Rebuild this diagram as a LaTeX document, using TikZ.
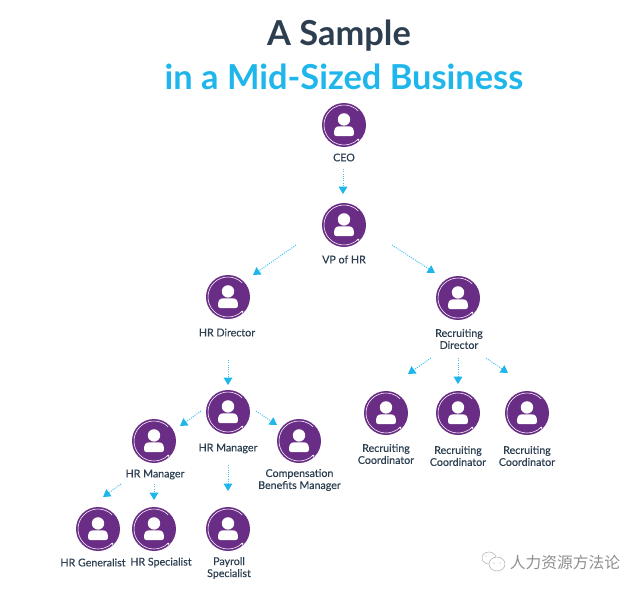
\documentclass[tikz,border=0pt]{standalone}
\usepackage{fontspec}
\setmainfont{Lato}
\newfontfamily\cjkfont{Noto Sans CJK SC}
\newfontfamily\rolefont[FakeBold=0.35]{Lato}
\usetikzlibrary{arrows.meta}
\definecolor{grape}{HTML}{6A2D86}
\definecolor{ink}{HTML}{2C3E50}
\definecolor{sky}{HTML}{1FB6EC}
\definecolor{mark}{HTML}{8E8E8E}
\tikzset{
  avatar/.style={circle,fill=grape,draw=none,minimum size=33pt,inner sep=0pt},
  role/.style={text=ink,font=\fontsize{8}{9}\rolefont,align=center,inner sep=0pt},
  link/.style={draw=sky!85,line width=0.7pt,dash pattern=on 0.8pt off 0.9pt,
    -{Triangle[length=5.5pt,width=6.5pt,color=sky,fill=sky,sep=0pt]}},
  persona/.pic={
    \draw[white,line width=0.4pt] (-45:20) arc[start angle=-45,end angle=-315,radius=20];
    \fill[white] (46:20.5) circle (1.2);
    \fill[white] (0,-5.6) circle (6.2);
    \fill[white] (-10,8.5) .. controls (-10,3.5) and (-8.5,1.3) .. (-4.5,1.3) -- (4.5,1.3)
      .. controls (8.5,1.3) and (10,3.5) .. (10,8.5)
      .. controls (10,10.3) and (9,11) .. (7.5,11) -- (-7.5,11)
      .. controls (-9,11) and (-10,10.3) .. (-10,8.5) -- cycle;
  }
}
\newcommand{\person}[2]{\node[avatar] (#1) at (#2) {}; \path (#1.center) pic[transform shape] {persona};}
\begin{document}
\begin{tikzpicture}[x=0.75pt,y=0.75pt,yscale=-1,xscale=1]
\path[use as bounding box] (0,0) rectangle (640,590);
% title
\node[text=ink,font=\fontsize{25.8}{30}\selectfont\bfseries,inner sep=0pt] (titlea) at (339,36) {A Sample};
\node[text=sky,font=\fontsize{25.8}{30}\selectfont\bfseries,inner sep=0pt] (titleb) at (344,77) {in a Mid-Sized Business};
% people
\person{ceo}{344,125}
\person{vphr}{344,225}
\person{hrdir}{228,297}
\person{recdir}{458,298}
\person{hrmgr}{228,412}
\person{hrmgrl}{154,441}
\person{comp}{299,441}
\person{reca}{386,413}
\person{recb}{458,413}
\person{recc}{527,413}
\person{hrgen}{98,529}
\person{hrspec}{154,529}
\person{payroll}{228,529}
% labels
\node[role] (ceotxt) at (344,157.5) {CEO};
\node[role] (vphrtxt) at (344,259.5) {VP of HR};
\node[role] (hrdirtxt) at (227,332.5) {HR Director};
\node[role] (recdirtxt) at (459,339) {Recruiting\\Director};
\node[role] (hrmgrtxt) at (228,448.5) {HR Manager};
\node[role] (hrmgrltxt) at (155,474.5) {HR Manager};
\node[role] (comptxt) at (299.5,480) {Compensation\\Benefits Manager};
\node[role] (recatxt) at (386,454) {Recruiting\\Coordinator};
\node[role] (recbtxt) at (458,456) {Recruiting\\Coordinator};
\node[role] (recctxt) at (527,456) {Recruiting\\Coordinator};
\node[role] (hrgentxt) at (93,562.5) {HR Generalist};
\node[role] (hrspectxt) at (161,562.5) {HR Specialist};
\node[role] (payrolltxt) at (229,568) {Payroll\\Specialist};
% arrows
\draw[link] ([shift={(-1,44)}]ceo.center) -- ([shift={(-1,-31)}]vphr.center);
\draw[link] ([shift={(-48,20)}]vphr.center) -- ([shift={(25,-22)}]hrdir.center);
\draw[link] ([shift={(48,20)}]vphr.center) -- ([shift={(-23,-25)}]recdir.center);
\draw[link] ([shift={(0,63)}]hrdir.center) -- ([shift={(0,-27)}]hrmgr.center);
\draw[link] ([shift={(-27,60)}]recdir.center) -- ([shift={(22,-39)}]reca.center);
\draw[link] ([shift={(0,60)}]recdir.center) -- ([shift={(0,-29)}]recb.center);
\draw[link] ([shift={(28,60)}]recdir.center) -- ([shift={(-19,-40)}]recc.center);
\draw[link] ([shift={(-27,-1)}]hrmgr.center) -- ([shift={(26,-15)}]hrmgrl.center);
\draw[link] ([shift={(28,-1)}]hrmgr.center) -- ([shift={(-22,-16)}]comp.center);
\draw[link] ([shift={(0,53)}]hrmgr.center) -- ([shift={(0,-38)}]payroll.center);
\draw[link] ([shift={(-33,43)}]hrmgrl.center) -- ([shift={(5,-32)}]hrgen.center);
\draw[link] ([shift={(0,43)}]hrmgrl.center) -- ([shift={(0,-29)}]hrspec.center);
% watermark
\node[text=mark,font=\fontsize{11.8}{13}\cjkfont,inner sep=0pt] (marktxt) at (565,562) {人力资源方法论};
\draw[mark!70,line width=0.4pt] (489,558) ellipse (7 and 6);
\draw[mark!70,line width=0.4pt,fill=white] (497,564) ellipse (8 and 7);
\fill[mark!70] (494,563) circle (0.7) (500,563) circle (0.7) (486,556) circle (0.6);
\end{tikzpicture}
\end{document}
